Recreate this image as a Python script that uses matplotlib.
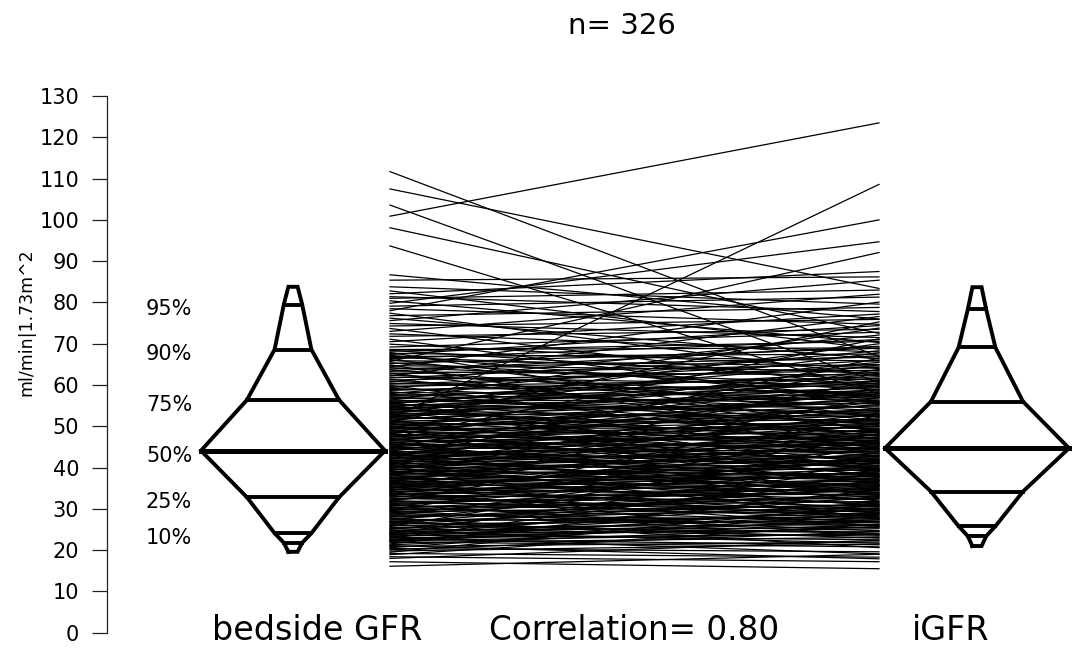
import matplotlib.pyplot as plt
import numpy as np

plt.rcParams['font.family'] = ['DejaVu Sans']

# paired GFR values (ml/min|1.73m^2), read/
bedside_gfr = [
    16.1, 17.2, 18.0, 18.4, 18.9, 19.2, 19.5, 19.8,
    20.1, 20.4, 20.6, 20.9, 21.1, 21.3, 21.5, 21.8,
    22.0, 22.1, 22.3, 22.4, 22.6, 22.7, 22.9, 23.0, 23.2, 23.3, 23.4, 23.6, 23.7, 23.8, 23.9, 24.0, 24.1,
    24.3, 24.5, 24.6, 24.8, 25.0, 25.2, 25.3, 25.5, 25.7, 25.9,
    26.0, 26.2, 26.4, 26.6, 26.8, 26.9, 27.1, 27.3, 27.5, 27.6,
    27.8, 28.0, 28.2, 28.3, 28.5, 28.7, 28.9, 29.0, 29.2, 29.4,
    29.6, 29.7, 29.9, 30.1, 30.3, 30.4, 30.6, 30.8, 31.0, 31.1,
    31.3, 31.5, 31.7, 31.8, 32.0, 32.2, 32.4, 32.6, 32.8,
    32.9, 33.1, 33.2, 33.4, 33.5, 33.7, 33.8, 33.9, 34.1, 34.2,
    34.4, 34.5, 34.7, 34.8, 34.9, 35.1, 35.2, 35.4, 35.5, 35.6,
    35.8, 35.9, 36.1, 36.2, 36.3, 36.5, 36.6, 36.8, 36.9, 37.0,
    37.2, 37.3, 37.5, 37.6, 37.7, 37.9, 38.0, 38.2, 38.3, 38.4,
    38.6, 38.7, 38.9, 39.0, 39.1, 39.3, 39.4, 39.6, 39.7, 39.8,
    40.0, 40.1, 40.3, 40.4, 40.5, 40.7, 40.8, 41.0, 41.1, 41.2,
    41.4, 41.5, 41.7, 41.8, 41.9, 42.1, 42.2, 42.4, 42.5, 42.6,
    42.8, 42.9, 43.1, 43.2, 43.3, 43.5, 43.6, 43.8, 43.9, 44.0, 44.1,
    44.3, 44.4, 44.6, 44.7, 44.9, 45.0, 45.2, 45.3, 45.5, 45.6,
    45.8, 45.9, 46.1, 46.2, 46.4, 46.5, 46.7, 46.8, 47.0, 47.1,
    47.3, 47.4, 47.6, 47.7, 47.9, 48.0, 48.2, 48.3, 48.5, 48.6,
    48.8, 48.9, 49.1, 49.2, 49.4, 49.5, 49.7, 49.8, 50.0, 50.1,
    50.3, 50.4, 50.6, 50.7, 50.9, 51.0, 51.2, 51.3, 51.5, 51.6,
    51.8, 51.9, 52.1, 52.2, 52.4, 52.5, 52.7, 52.8, 53.0, 53.1,
    53.3, 53.4, 53.6, 53.7, 53.9, 54.0, 54.2, 54.3, 54.5, 54.6,
    54.8, 54.9, 55.1, 55.2, 55.4, 55.5, 55.7, 55.8, 56.0, 56.1, 56.3, 56.4,
    56.7, 56.9, 57.2, 57.4, 57.7, 57.9, 58.2, 58.4, 58.7, 58.9,
    59.2, 59.4, 59.7, 59.9, 60.2, 60.4, 60.7, 60.9, 61.2, 61.4,
    61.7, 61.9, 62.2, 62.4, 62.7, 62.9, 63.2, 63.4, 63.7, 63.9,
    64.2, 64.4, 64.7, 64.9, 65.2, 65.4, 65.7, 65.9, 66.2, 66.4,
    66.7, 66.9, 67.2, 67.4, 67.7, 67.9, 68.2, 68.4, 68.6,
    69.2, 69.9, 70.5, 71.1, 71.8, 72.4, 73.0, 73.7, 74.3, 74.9, 75.6, 76.2, 76.8, 77.4, 78.0, 78.5,
    79.1, 79.8, 80.4, 81.0, 81.4, 82.1, 82.8, 83.8,
    85.4, 86.7, 93.7, 98.1, 100.9, 103.6, 107.5, 111.7,
]
igfr = [
    19.0, 15.5, 22.4, 17.2, 26.3, 18.3, 31.0, 21.5,
    24.5, 19.6, 28.9, 22.0, 17.9, 25.7, 34.6, 23.1,
    20.8, 27.4, 24.0, 30.2, 21.3, 26.1, 38.5, 23.8, 19.1, 28.7, 25.2, 33.0, 22.5, 29.9, 26.8, 41.2, 24.6,
    27.9, 21.7, 31.4, 25.5, 36.8, 23.4, 29.1, 26.2, 45.3, 28.4,
    24.1, 32.7, 27.0, 35.5, 22.9, 30.6, 28.1, 39.4, 26.6, 33.8,
    20.6, 31.2, 29.5, 43.0, 27.3, 34.9, 25.8, 37.6, 30.9, 24.7,
    33.1, 48.2, 28.8, 35.7, 26.9, 31.8, 40.5, 29.3, 36.2, 23.6,
    34.4, 30.0, 52.6, 32.5, 27.7, 38.9, 35.0, 29.7, 42.1,
    33.6, 28.3, 41.7, 36.4, 31.5, 46.8, 34.7, 25.9, 39.0, 37.2,
    30.4, 44.5, 35.8, 33.3, 57.0, 38.1, 29.0, 42.3, 36.7, 32.2,
    48.9, 39.6, 34.0, 27.5, 43.4, 37.9, 35.2, 50.7, 40.2, 31.0,
    38.6, 45.8, 36.0, 33.9, 41.1, 61.3, 37.4, 29.6, 44.0, 39.8,
    35.6, 47.5, 41.9, 32.8, 38.4, 53.2, 43.0, 36.9, 30.7, 45.1,
    40.6, 49.4, 37.7, 42.7, 34.3, 56.1, 44.8, 39.3, 27.8, 46.3,
    41.5, 51.8, 38.0, 43.9, 35.4, 48.0, 66.5, 40.9, 45.7, 33.5,
    47.1, 42.5, 54.4, 39.1, 46.0, 31.9, 50.2, 44.3, 41.3, 59.0, 37.1,
    46.6, 52.1, 40.0, 48.5, 43.7, 63.8, 47.8, 36.6, 50.9, 45.4,
    42.0, 55.3, 49.0, 33.2, 47.3, 58.4, 44.6, 51.4, 39.7, 49.9,
    71.2, 46.9, 53.6, 41.6, 50.5, 45.9, 60.1, 38.2, 52.7, 48.1,
    56.9, 43.3, 51.1, 35.9, 54.0, 49.6, 64.9, 46.4, 53.0, 42.8,
    57.6, 51.7, 40.4, 55.0, 48.7, 75.3, 53.9, 45.0, 58.9, 37.8,
    55.8, 108.6, 50.0, 61.7, 47.2, 56.3, 43.8, 59.6, 52.4, 67.8,
    49.3, 57.8, 41.0, 55.6, 62.6, 51.3, 58.2, 46.1, 70.0, 54.7,
    60.5, 44.2, 57.1, 53.4, 65.5, 48.4, 59.3, 39.5, 61.0, 56.6, 73.8, 52.9,
    58.6, 63.1, 50.6, 60.8, 55.4, 68.3, 57.3, 47.7, 62.0, 59.8,
    53.8, 66.0, 61.5, 44.7, 64.3, 58.0, 72.1, 55.9, 63.6, 51.5,
    67.1, 60.0, 76.6, 57.5, 65.0, 49.1, 62.4, 69.4, 54.2, 66.8,
    60.3, 80.1, 63.4, 45.6, 68.9, 58.8, 92.1, 64.6, 52.3, 71.0,
    62.8, 67.5, 57.0, 74.4, 65.8, 48.6, 70.6, 61.1, 69.0,
    72.8, 64.0, 77.2, 55.7, 73.5, 68.0, 82.0, 59.4, 75.9, 71.5, 85.4, 66.3, 78.8, 62.2, 100.0, 74.7,
    81.3, 94.7, 70.3, 83.0, 77.8, 87.5, 68.7, 79.6,
    86.2, 76.0, 57.9, 72.5, 123.5, 60.6, 83.4, 66.9,
]

# quantile levels drawn in the two spindles and their values
q_levels = [0.025, 0.05, 0.10, 0.25, 0.50, 0.75, 0.90, 0.95, 0.975]
q_bedside = [19.6, 21.8, 24.1, 32.8, 44.1, 56.4, 68.6, 79.5, 83.8]
q_igfr = [21.0, 23.4, 25.8, 34.2, 44.7, 56.0, 69.1, 78.3, 83.7]
pct_labels = ['10%', '25%', '50%', '75%', '90%', '95%']
pct_values = [24.1, 32.8, 44.1, 56.4, 68.6, 79.5]

n_obs = 326
corr = 0.80

fig = plt.figure(figsize=(10.73, 6.51), dpi=100)
ax = fig.add_axes([0, 0, 1, 1])
ax.set_xlim(0, 1073)
ax.set_ylim(-4.43, 153.27)

# y axis like R's axis(2)
for s in ['top', 'right', 'bottom']:
    ax.spines[s].set_visible(False)
ax.spines['left'].set_position(('data', 107))
ax.spines['left'].set_bounds(0, 130)
ax.spines['left'].set_linewidth(0.9)
ax.spines['left'].set_color('#222222')
ax.set_xticks([])
ax.set_yticks(np.arange(0, 131, 10))
ax.tick_params(axis='y', length=11, width=0.9, color='#222222', pad=9, labelsize=15)
ax.text(26, 75.2, 'ml/min|1.73m^2', rotation=90, ha='center', va='center', fontsize=12.5)

# spaghetti lines between the two measurements
x_left, x_right = 390, 879
for a, b in zip(bedside_gfr, igfr):
    ax.plot([x_left, x_right], [a, b], color='black', lw=0.9)


def spindle(cx, qvals):
    hw = [184 * min(q, 1 - q) for q in q_levels]
    xs = [cx - w for w in hw] + [cx + w for w in hw[::-1]] + [cx - hw[0]]
    ys = list(qvals) + list(qvals[::-1]) + [qvals[0]]
    ax.plot(xs, ys, color='black', lw=2.8, solid_joinstyle='miter')
    for q, v, w in zip(q_levels[1:-1], qvals[1:-1], hw[1:-1]):
        ax.plot([cx - w, cx + w], [v, v], color='black', lw=3.6 if q == 0.5 else 2.8)


spindle(293, q_bedside)
spindle(977, q_igfr)

for lab, v in zip(pct_labels, pct_values):
    ax.text(169, v - 1.2, lab, ha='center', va='center', fontsize=15)

ax.text(622, 147.0, f'n= {n_obs}', ha='center', va='center', fontsize=21)
ax.text(317, -1.8, 'bedside GFR', ha='center', va='baseline', fontsize=24)
ax.text(634, -1.8, f'Correlation= {corr:.2f}', ha='center', va='baseline', fontsize=23.5)
ax.text(951, -1.8, 'iGFR', ha='center', va='baseline', fontsize=24)

fig.savefig('out.png', dpi=100)
